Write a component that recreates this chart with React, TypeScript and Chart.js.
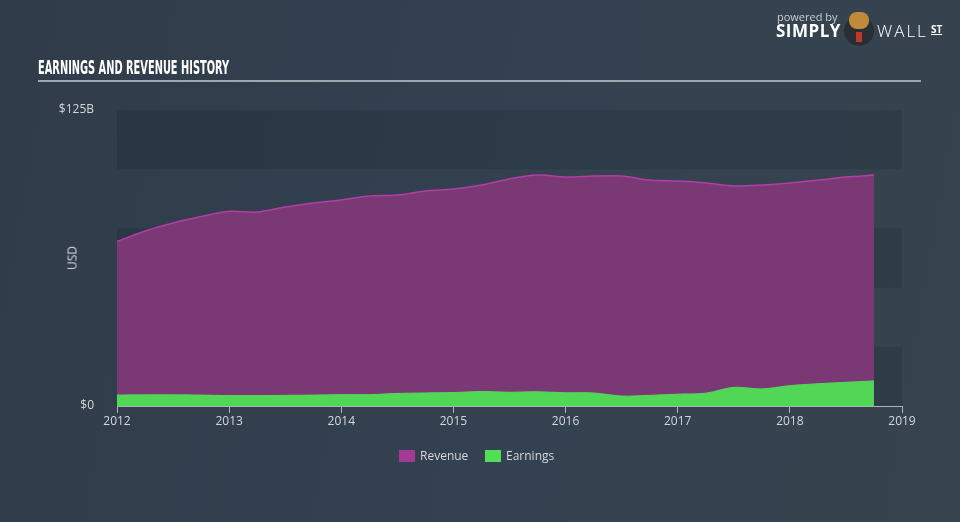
import React, { useEffect, useRef, useLayoutEffect } from "react";
import { Chart, registerables } from "chart.js";

Chart.register(...registerables);

const periods = [
  2012, 2012.25, 2012.5, 2012.75, 2013, 2013.25, 2013.5, 2013.75,
  2014, 2014.25, 2014.5, 2014.75, 2015, 2015.25, 2015.5, 2015.75,
  2016, 2016.25, 2016.5, 2016.75, 2017, 2017.25, 2017.5, 2017.75,
  2018, 2018.25, 2018.5, 2018.75,
];
const revenue = [
  69.5, 73.9, 77.3, 80.0, 82.2, 81.9, 84.0, 85.7,
  87.0, 88.7, 89.1, 90.8, 91.6, 93.3, 95.9, 97.5,
  96.7, 97.1, 97.1, 95.4, 95.0, 94.2, 92.9, 93.3,
  94.2, 95.4, 96.7, 97.5,
];
const earnings = [
  4.6, 4.7, 4.7, 4.6, 4.4, 4.4, 4.5, 4.6,
  4.8, 4.8, 5.3, 5.5, 5.7, 6.1, 5.8, 6.0,
  5.6, 5.5, 4.2, 4.5, 5.0, 5.4, 7.9, 7.2,
  8.6, 9.4, 10.0, 10.6,
];
const yTicks = [0, 125];
const yTickLabels = ["$0", "$125B"];
const xMin = 2012;
const xMax = 2019;
const seriesNames = ["Revenue", "Earnings"];

const bandsPlugin = {
  id: "bands",
  beforeDraw(chart: any) {
    const { ctx, chartArea, scales } = chart;
    const y = scales.y;
    ctx.save();
    ctx.fillStyle = "rgba(20,30,42,0.2)";
    const bandEdges = [125, 100, 75, 50, 25, 0];
    for (let i = 0; i < bandEdges.length - 1; i += 2) {
      const top = y.getPixelForValue(bandEdges[i]);
      const bot = y.getPixelForValue(bandEdges[i + 1]);
      ctx.fillRect(chartArea.left, top, chartArea.right - chartArea.left, bot - top);
    }
    ctx.restore();
  },
};

function ChartCanvas() {
  const ref = useRef<HTMLCanvasElement>(null);
  useEffect(() => {
    if (!ref.current) return;
    const chart = new Chart(ref.current, {
      type: "line",
      data: {
        datasets: [
          {
            label: seriesNames[1],
            data: periods.map((p, i) => ({ x: p, y: earnings[i] })),
            borderColor: "#56d95a",
            backgroundColor: "#52d655",
            borderWidth: 1,
            fill: "origin",
            pointRadius: 0,
            tension: 0.3,
          },
          {
            label: seriesNames[0],
            data: periods.map((p, i) => ({ x: p, y: revenue[i] })),
            borderColor: "#b23ea6",
            backgroundColor: "#7a3974",
            borderWidth: 1.5,
            fill: "origin",
            pointRadius: 0,
            tension: 0.3,
          },
        ],
      },
      options: {
        animation: false,
        responsive: false,
        maintainAspectRatio: false,
        layout: { padding: { top: 110, right: 58, left: 0, bottom: 0 } },
        plugins: { legend: { display: false }, tooltip: { enabled: false } },
        scales: {
          x: {
            type: "linear",
            min: xMin,
            max: xMax,
            afterFit: (s: any) => { s.height = 116; },
            grid: { display: true, drawOnChartArea: false, tickLength: 7, color: "#aab2bb" },
            border: { display: true, color: "#aab2bb", width: 1 },
            ticks: {
              stepSize: 1,
              color: "#d3d7dc",
              font: { family: "'Open Sans', sans-serif", size: 12 },
              padding: 1,
              maxRotation: 0,
              callback: (v: any) => String(v),
            },
          },
          y: {
            min: 0,
            max: 125,
            afterFit: (s: any) => { s.width = 117; },
            afterBuildTicks: (s: any) => { s.ticks = yTicks.map((v) => ({ value: v })); },
            grid: { display: false },
            border: { display: false },
            ticks: {
              color: "#d3d7dc",
              font: { family: "'Open Sans', sans-serif", size: 12 },
              padding: 15,
              callback: (v: any) => yTickLabels[yTicks.indexOf(v)] ?? "",
            },
          },
        },
      },
      plugins: [bandsPlugin],
    } as any);
    return () => chart.destroy();
  }, []);
  return (
    <canvas
      ref={ref}
      width={960}
      height={522}
      style={{ position: "absolute", left: 0, top: 0, width: 960, height: 522 }}
    />
  );
}

function Title() {
  const ref = useRef<HTMLSpanElement>(null);
  useLayoutEffect(() => {
    const el = ref.current;
    if (!el) return;
    const w = el.offsetWidth;
    if (w > 0) el.style.transform = `scaleX(${191 / w})`;
  }, []);
  return (
    <span
      ref={ref}
      style={{
        position: "absolute",
        left: 38,
        top: 57,
        display: "inline-block",
        transformOrigin: "left top",
        fontFamily: "'DejaVu Sans Condensed', 'DejaVu Sans', sans-serif",
        fontWeight: "bold",
        fontSize: 19,
        lineHeight: "20px",
        color: "#ffffff",
        whiteSpace: "nowrap",
      }}
    >
      EARNINGS AND REVENUE HISTORY
    </span>
  );
}

export default function App() {
  const font = "'Open Sans', sans-serif";
  return (
    <div
      style={{
        position: "fixed",
        left: 0,
        top: 0,
        width: 960,
        height: 522,
        overflow: "hidden",
        background: "linear-gradient(100deg, #303c4a 0%, #344150 55%, #37444f 100%)",
        fontFamily: font,
      }}
    >
      <ChartCanvas />
      <Title />
      <div style={{ position: "absolute", left: 38, top: 80, width: 883, height: 2, background: "#9ea6ae" }} />
      {/* USD axis title */}
      <div
        style={{
          position: "absolute",
          left: 72,
          top: 258,
          transform: "translate(-50%, -50%) rotate(-90deg)",
          color: "#d3d7dc",
          fontSize: 12,
          whiteSpace: "nowrap",
        }}
      >
        USD
      </div>
      {/* Legend */}
      <div style={{ position: "absolute", left: 399, top: 450, width: 16, height: 12, background: "#a23a98" }} />
      <div style={{ position: "absolute", left: 420, top: 448, fontSize: 12, color: "#d3d7dc", lineHeight: "16px" }}>
        {seriesNames[0]}
      </div>
      <div style={{ position: "absolute", left: 485, top: 450, width: 16, height: 12, background: "#52df58" }} />
      <div style={{ position: "absolute", left: 506, top: 448, fontSize: 12, color: "#d3d7dc", lineHeight: "16px" }}>
        {seriesNames[1]}
      </div>
      {/* Logo */}
      <div style={{ position: "absolute", left: 777, top: 11, fontSize: 11, color: "#c9ced3", lineHeight: "12px" }}>
        powered by
      </div>
      <div
        style={{
          position: "absolute",
          left: 776,
          top: 22,
          fontSize: 17,
          fontWeight: "bold",
          color: "#ffffff",
          lineHeight: "18px",
          letterSpacing: 0.5,
        }}
      >
        SIMPLY
      </div>
      <div
        style={{
          position: "absolute",
          left: 844,
          top: 16,
          width: 30,
          height: 30,
          borderRadius: 15,
          background: "#2a2e35",
        }}
      />
      <div
        style={{
          position: "absolute",
          left: 849,
          top: 12,
          width: 20,
          height: 17,
          borderRadius: 8,
          background: "#c08a3a",
        }}
      />
      <div
        style={{
          position: "absolute",
          left: 856,
          top: 32,
          width: 6,
          height: 10,
          background: "#c0392b",
        }}
      />
      <div
        style={{
          position: "absolute",
          left: 877,
          top: 22,
          fontSize: 17,
          color: "#ffffff",
          lineHeight: "18px",
          fontWeight: 300,
          letterSpacing: 2,
        }}
      >
        WALL
      </div>
      <div
        style={{
          position: "absolute",
          left: 931,
          top: 24,
          fontSize: 10,
          color: "#ffffff",
          lineHeight: "10px",
          fontWeight: "bold",
          borderBottom: "1.5px solid #ffffff",
        }}
      >
        ST
      </div>
    </div>
  );
}
